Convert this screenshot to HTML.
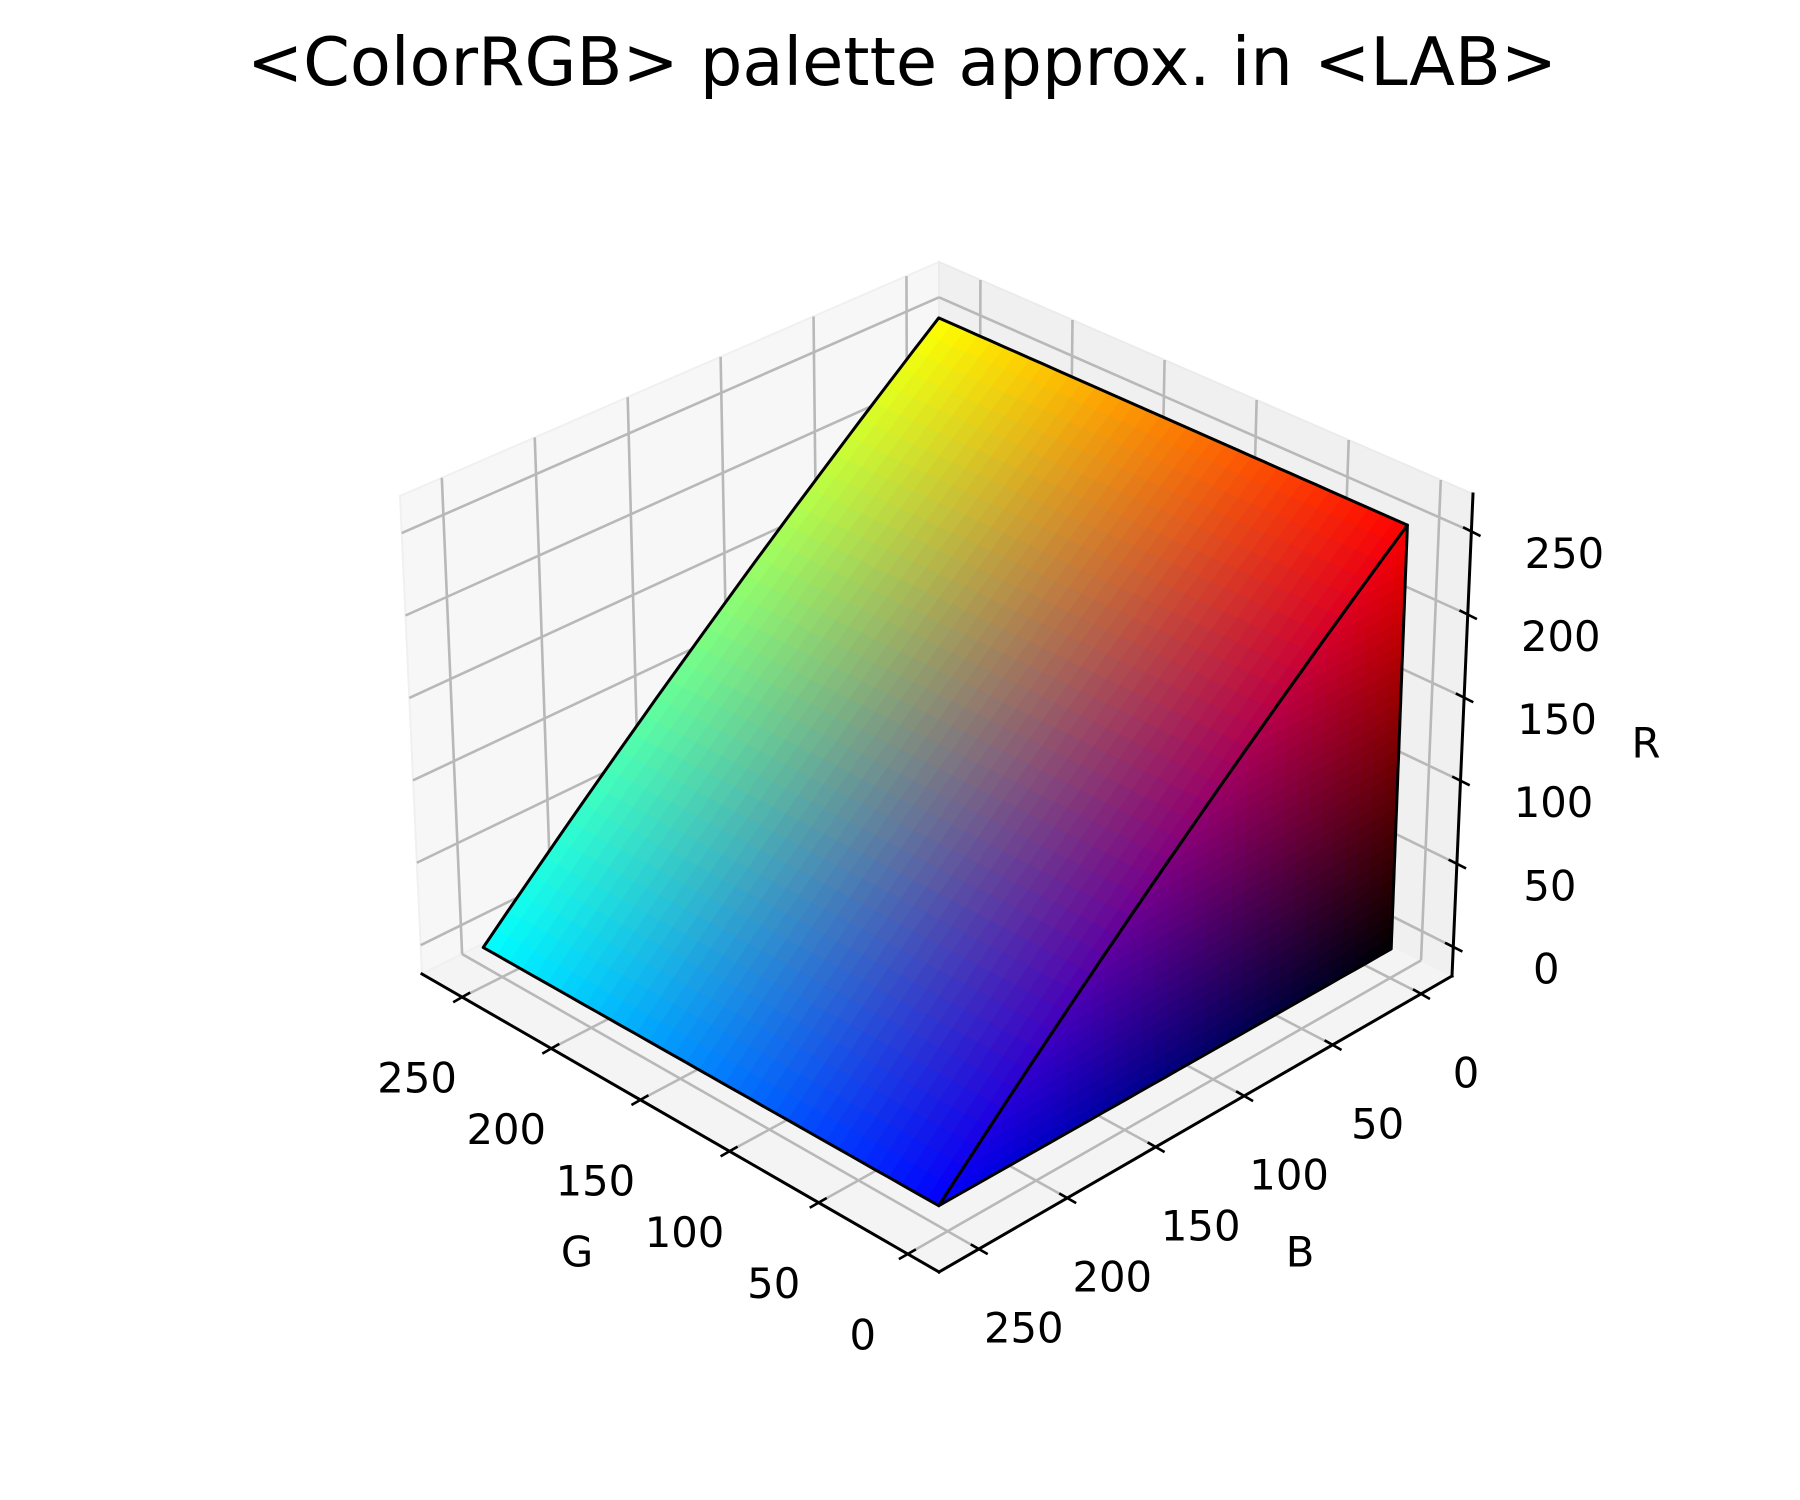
<!DOCTYPE html>
<html><head><meta charset="utf-8">
<style>
html,body{margin:0;padding:0;background:#fff;}
svg{display:block;}
text{font-family:"DejaVu Sans","Liberation Sans",sans-serif;fill:#000;}
</style></head>
<body>
<svg id="chart" width="1800" height="1500" viewBox="0 0 1800 1500" xmlns="http://www.w3.org/2000/svg">
  <rect x="0" y="0" width="1800" height="1500" fill="#ffffff"/>
  <text x="902" y="62" font-size="67" text-anchor="middle" dominant-baseline="central">&lt;ColorRGB&gt; palette approx. in &lt;LAB&gt;</text>
  <g id="panes"></g>
  <g id="grid"></g>
  <g id="axes"></g>
  <g id="surface"></g>
  <g id="edges"></g>
  <g id="labels"></g>
  <text x="577" y="1252" font-size="41.7" text-anchor="middle" dominant-baseline="central">G</text>
  <text x="1300" y="1252" font-size="41.7" text-anchor="middle" dominant-baseline="central">B</text>
  <text x="1646" y="743" font-size="41.7" text-anchor="middle" dominant-baseline="central">R</text>
</svg>
<script>
// ---- data ----
const gTicks = [0, 50, 100, 150, 200, 250];
const bTicks = [0, 50, 100, 150, 200, 250];
const rTicks = [0, 50, 100, 150, 200, 250];
const axisMin = -17.5;
const axisMax = 272.5;
const channelMax = 255;
const cells = 36;

// ---- projection (trilinear over box corners, approximating perspective) ----
const C = {
  '000': [1452, 976], '001': [1473, 494],
  '010': [939, 1272], '011': [939, 762],
  '100': [939, 717],  '101': [939, 262],
  '110': [422, 974],  '111': [400, 496]
};
function P(g, b, r) {
  const u = (g - axisMin) / (axisMax - axisMin);
  const v = (b - axisMin) / (axisMax - axisMin);
  const w = (r - axisMin) / (axisMax - axisMin);
  let x = 0, y = 0;
  for (const gi of [0,1]) for (const bi of [0,1]) for (const ri of [0,1]) {
    const wt = (gi ? u : 1-u) * (bi ? v : 1-v) * (ri ? w : 1-w);
    const c = C['' + gi + bi + ri];
    x += wt * c[0]; y += wt * c[1];
  }
  return [x, y];
}
const NS = 'http://www.w3.org/2000/svg';
function mk(tag, attrs, parent) {
  const e = document.createElementNS(NS, tag);
  for (const k in attrs) e.setAttribute(k, attrs[k]);
  parent.appendChild(e);
  return e;
}
function pts(list) { return list.map(p => p[0].toFixed(1) + ',' + p[1].toFixed(1)).join(' '); }
const lo = axisMin, hi = axisMax;

// panes
const panes = document.getElementById('panes');
let e;
e = mk('polygon', {points: pts([P(hi,lo,lo), P(hi,hi,lo), P(hi,hi,hi), P(hi,lo,hi)]), fill: '#f7f7f7', stroke: '#f0f0f0', 'stroke-width': 2}, panes);


e = mk('polygon', {points: pts([P(lo,lo,lo), P(hi,lo,lo), P(hi,lo,hi), P(lo,lo,hi)]), fill: '#f0f0f0', stroke: '#ebebeb', 'stroke-width': 2}, panes);


e = mk('polygon', {points: pts([P(lo,lo,lo), P(hi,lo,lo), P(hi,hi,lo), P(lo,hi,lo)]), fill: '#f4f4f4', stroke: '#f0f0f0', 'stroke-width': 2}, panes);



// grid
const grid = document.getElementById('grid');
function gl(a, b, name) {
  const l = mk('line', {x1: a[0], y1: a[1], x2: b[0], y2: b[1], stroke: '#b8b8b8', 'stroke-width': 2.6}, grid);
  
  
}
bTicks.forEach(t => { gl(P(hi,t,lo), P(hi,t,hi), 'grid-b-wall'); gl(P(lo,t,lo), P(hi,t,lo), 'grid-b-floor'); });
gTicks.forEach(t => { gl(P(t,lo,lo), P(t,lo,hi), 'grid-g-wall'); gl(P(t,lo,lo), P(t,hi,lo), 'grid-g-floor'); });
rTicks.forEach(t => { gl(P(hi,lo,t), P(hi,hi,t), 'grid-r-left'); gl(P(lo,lo,t), P(hi,lo,t), 'grid-r-right'); });

// axes + ticks
const axes = document.getElementById('axes');
function al(a, b, name, w) {
  const l = mk('line', {x1: a[0], y1: a[1], x2: b[0], y2: b[1], stroke: '#000', 'stroke-width': w, 'stroke-linecap': 'square'}, axes);
  
  
}
al(P(lo,hi,lo), P(hi,hi,lo), 'g-axis-line', 3);
al(P(lo,lo,lo), P(lo,hi,lo), 'b-axis-line', 3);
al(P(lo,lo,lo), P(lo,lo,hi), 'r-axis-line', 3);
const labels = document.getElementById('labels');
function tickAndLabel(p, dir, off, txt, name) {
  al([p[0] - dir[0]*8, p[1] - dir[1]*8], [p[0] + dir[0]*9, p[1] + dir[1]*9], name + '-tick', 2.6);
  const t = mk('text', {x: (p[0] + off[0]).toFixed(1), y: (p[1] + off[1]).toFixed(1), 'font-size': 41.7, 'text-anchor': 'middle', 'dominant-baseline': 'central'}, labels);
  t.textContent = txt;
  
  
}
gTicks.forEach(t => tickAndLabel(P(t,hi,lo), [-0.866,0.5], [-45,81], String(t), 'g-' + t));
bTicks.forEach(t => tickAndLabel(P(lo,t,lo), [0.866,0.5], [45,79], String(t), 'b-' + t));
rTicks.forEach(t => tickAndLabel(P(lo,lo,t), [0.89,0.45], [93,22], String(t), 'r-' + t));

// surface
const surf = document.getElementById('surface');
function col(r, g, b) { return 'rgb(' + Math.round(r) + ',' + Math.round(g) + ',' + Math.round(b) + ')'; }
const step = channelMax / cells;
for (let i = 0; i < cells; i++) {
  for (let j = 0; j < cells; j++) {
    const g0 = i*step, g1 = (i+1)*step, b0 = j*step, b1 = (j+1)*step;
    const gc = (g0+g1)/2, bc = (b0+b1)/2;
    const c = col(channelMax - bc, gc, bc);
    const q = mk('polygon', {points: pts([P(g0,b0,channelMax-b0), P(g1,b0,channelMax-b0), P(g1,b1,channelMax-b1), P(g0,b1,channelMax-b1)]), fill: c, stroke: c, 'stroke-width': 1.2}, surf);
    
    
  }
}
for (let j = 0; j < cells; j++) {
  const b0 = j*step, b1 = (j+1)*step;
  for (let k = 0; k < cells - j; k++) {
    const r0 = k*step, r1 = (k+1)*step;
    const bc = (b0+b1)/2, rc = (r0+r1)/2;
    const c = col(rc, 0, bc);
    let poly;
    if (k === cells - j - 1) poly = [P(0,b0,r0), P(0,b1,r0), P(0,b0,r1)];
    else poly = [P(0,b0,r0), P(0,b1,r0), P(0,b1,r1), P(0,b0,r1)];
    const q = mk('polygon', {points: pts(poly), fill: c, stroke: c, 'stroke-width': 1.2}, surf);
    
    
  }
}
// edges
const edges = document.getElementById('edges');
function edgePts(a, b) {
  const out = [];
  for (let s = 0; s <= cells; s++) {
    const f = s / cells;
    out.push(P(a[0] + (b[0]-a[0])*f, a[1] + (b[1]-a[1])*f, a[2] + (b[2]-a[2])*f));
  }
  return out;
}
const vY = [channelMax,0,channelMax], vR = [0,0,channelMax], vB = [0,channelMax,0], vC = [channelMax,channelMax,0], vK = [0,0,0];
function outline(list, name) {
  let all = [];
  for (let i = 0; i < list.length; i++) all = all.concat(edgePts(list[i], list[(i+1) % list.length]));
  const o = mk('polygon', {points: pts(all), fill: 'none', stroke: '#000', 'stroke-width': 3, 'stroke-linejoin': 'round'}, edges);
  
  
}
outline([vY, vR, vB, vC], 'top-face-outline');
outline([vR, vK, vB], 'side-face-outline');
</script>
</body></html>
